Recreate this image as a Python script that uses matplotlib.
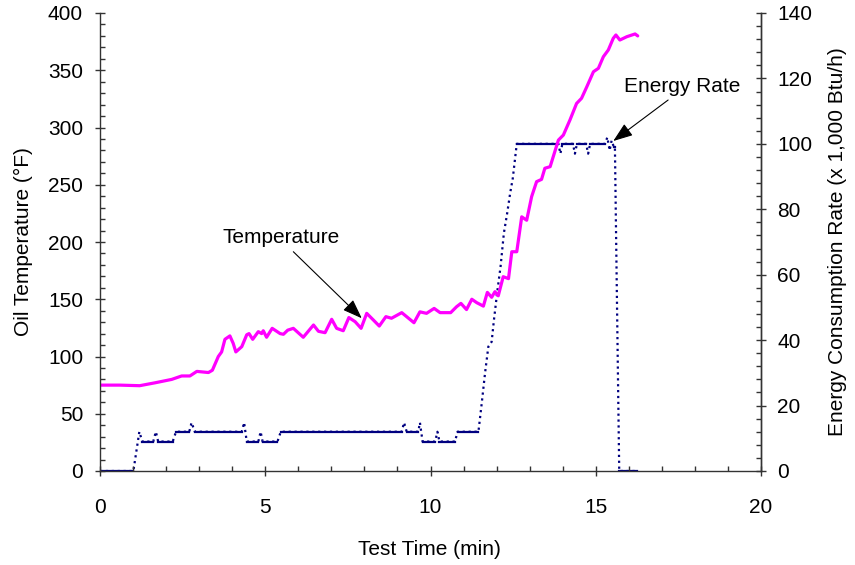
import matplotlib.pyplot as plt
from matplotlib.ticker import MultipleLocator

plt.rcParams['font.family'] = ['Liberation Sans', 'DejaVu Sans']
plt.rcParams['font.size'] = 15

# oil temperature (deg F) vs test time (min)
temp_time = [0, 0.6, 1.2, 1.66, 2.17, 2.47, 2.72, 2.93, 3.28, 3.40, 3.58, 3.68,
             3.78, 3.93, 4.03, 4.11, 4.29, 4.44, 4.51, 4.62, 4.79, 4.89, 4.94,
             5.04, 5.21, 5.32, 5.45, 5.55, 5.68, 5.85, 6.15, 6.46, 6.61, 6.81,
             7.01, 7.16, 7.36, 7.53, 7.72, 7.90, 8.07, 8.27, 8.45, 8.65, 8.82,
             9.13, 9.50, 9.68, 9.88, 10.11, 10.29, 10.61, 10.79, 10.92, 11.09,
             11.25, 11.40, 11.60, 11.72, 11.85, 11.95, 12.05, 12.20, 12.36,
             12.46, 12.61, 12.76, 12.91, 13.06, 13.21, 13.36, 13.46, 13.62,
             13.87, 14.02, 14.22, 14.42, 14.57, 14.73, 14.93, 15.08, 15.23,
             15.38, 15.53, 15.61, 15.73, 15.94, 16.19, 16.27]
temp_value = [75, 75, 74.5, 77, 80, 83, 83, 87, 86, 88, 100, 104,
              115, 118, 111.5, 104, 108.6, 119, 120, 115, 121.7, 120, 122.5,
              116.8, 124.6, 122.5, 120, 119.4, 123, 124.6, 116.8, 127.5, 122, 120.8,
              132.5, 124.6, 122.5, 134, 130.4, 124.6, 137.7, 131.9, 126.6, 134.8, 133.4,
              138.3, 129.5, 139, 137.7, 142, 138.3, 138.3, 143.5, 146.4, 141,
              150, 147, 144, 156, 151.7, 156.6, 153, 169.7, 168,
              191.5, 191.5, 222, 219, 239.6, 252.7, 254.7, 264.4, 265.8,
              289, 293.4, 306.6, 321, 325.5, 335.6, 348.7, 351.7, 361.8,
              367.7, 377.9, 380.8, 376.4, 379.3, 381.7, 380]

# energy consumption rate (x 1,000 Btu/h)
energy_time = [0, 1.01, 1.19, 1.28, 1.61, 1.69, 1.76, 2.20, 2.30, 2.70, 2.77, 2.87,
               4.29, 4.36, 4.44, 4.79, 4.86, 4.92, 5.37, 5.47, 9.13, 9.20, 9.28,
               9.63, 9.68, 9.76, 10.14, 10.21, 10.27, 10.74, 10.82, 11.45, 11.55,
               11.65, 11.75, 11.85, 11.92, 12.02, 12.12, 12.22, 12.32, 12.41, 12.49,
               12.61, 13.87, 13.93, 13.99, 14.31, 14.37, 14.43, 14.71, 14.77, 14.83,
               15.28, 15.35, 15.42, 15.48, 15.55, 15.58, 15.71, 16.24]
energy_value = [0, 0, 12, 9, 9, 12, 9, 9, 12, 12, 14.8, 12,
                12, 14.8, 9, 9, 12, 9, 9, 12, 12, 14.8, 12,
                12, 14.8, 9, 9, 12, 9, 9, 12, 12, 20.7,
                29.9, 38, 39.5, 46.2, 54.8, 62.5, 72.7, 78.8, 84.9, 89.5,
                100, 100, 97, 100, 100, 97, 100, 100, 97, 100,
                100, 102, 98, 101, 99, 99, 0, 0]

fig = plt.figure(figsize=(8.55, 5.65), dpi=100)
ax = fig.add_axes([100 / 855, 94 / 565, 661 / 855, 458 / 565])
ax2 = ax.twinx()

navy = '#000080'
ax2.plot(energy_time, energy_value, color=navy, lw=1.6, ls=':')
# flat stretches come out solid in the original
for i in range(len(energy_time) - 1):
    if energy_value[i] == energy_value[i + 1]:
        ax2.plot(energy_time[i:i + 2], energy_value[i:i + 2], color=navy, lw=1.6)

ax.plot(temp_time, temp_value, color='#ff00ff', lw=2.3,
        solid_capstyle='round', solid_joinstyle='round')
ax.set_zorder(ax2.get_zorder() + 1)
ax.patch.set_visible(False)

ax.set_xlim(0, 20)
ax.set_ylim(0, 400)
ax2.set_ylim(0, 140)
ax.xaxis.set_major_locator(MultipleLocator(5))
ax.xaxis.set_minor_locator(MultipleLocator(1))
ax.yaxis.set_major_locator(MultipleLocator(50))
ax.yaxis.set_minor_locator(MultipleLocator(10))
ax2.yaxis.set_major_locator(MultipleLocator(20))
ax2.yaxis.set_minor_locator(MultipleLocator(4))

spine_col = '#333333'
for a in (ax, ax2):
    a.spines['top'].set_visible(False)
    for s in a.spines.values():
        s.set_color(spine_col)
        s.set_linewidth(1.0)
    a.tick_params(which='major', direction='inout', length=7.2, width=1.0, color=spine_col)
    a.tick_params(which='minor', direction='in', length=3.6, width=1.0, color=spine_col)
ax2.spines['left'].set_visible(False)
ax2.spines['bottom'].set_visible(False)
ax.tick_params(axis='x', which='major', pad=16)
ax.tick_params(axis='y', which='major', pad=8.6)
ax2.tick_params(axis='y', which='major', pad=8)

ax.set_xlabel('Test Time (min)')
ax.set_ylabel('Oil Temperature (°F)')
ax2.set_ylabel('Energy Consumption Rate (x 1,000 Btu/h)')
ax.xaxis.set_label_coords(0.499, -0.151)
ax.yaxis.set_label_coords(-0.101, 0.5)
ax2.yaxis.set_label_coords(1.101, 0.5)

arrow = dict(arrowstyle='-|>,head_length=0.6,head_width=0.22', color='black',
             lw=0.8, mutation_scale=20, shrinkA=0, shrinkB=0)
ax.annotate('', xy=(7.92, 133.4), xytext=(5.85, 191.5), arrowprops=arrow)
ax.text(5.49, 204.1, 'Temperature', ha='center', va='center')
ax.annotate('', xy=(15.53, 288.2), xytext=(17.19, 324), arrowprops=arrow,
            annotation_clip=False)
ax.text(17.62, 335.4, 'Energy Rate', ha='center', va='center')

fig.savefig('out.png', dpi=100)
